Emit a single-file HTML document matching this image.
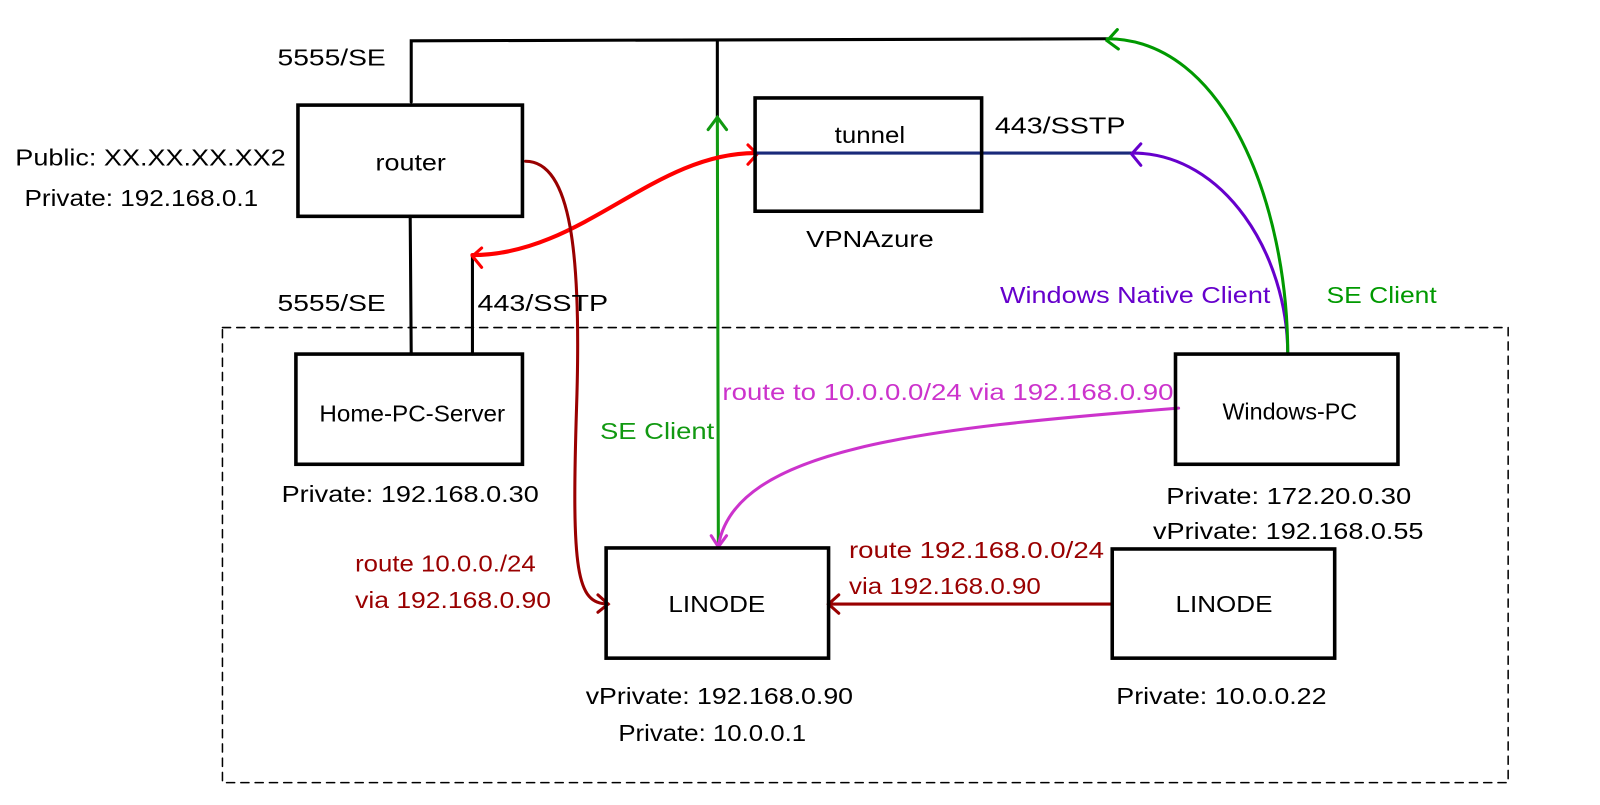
<!DOCTYPE html>
<html><head><meta charset="utf-8"><style>
body{margin:0;background:#fff;width:1600px;height:800px;overflow:hidden}
text{font-family:"Liberation Sans",sans-serif;font-size:23px}
</style></head><body>
<svg width="1600" height="800" viewBox="0 0 1600 800" xmlns="http://www.w3.org/2000/svg">
<g transform="scale(1.0204)">
<g fill="none" stroke-linecap="round">
<rect x="218" y="321" width="1260" height="446" stroke="#000" stroke-width="1.5" stroke-dasharray="8,6"/>
<path d="M403,100 L403,40 L1085,38" stroke="#000" stroke-width="3"/>
<path d="M703,40 L703,115" stroke="#000" stroke-width="3"/>
<path d="M703,115 L704,535" stroke="#119911" stroke-width="3"/>
<path d="M694,127 L703,115 L712,127" stroke="#119911" stroke-width="3"/>
<path d="M402,212 L403,347" stroke="#000" stroke-width="3"/>
<path d="M463,250 L463,347" stroke="#000" stroke-width="3"/>
<path d="M463,250 C570,250 640,150 740,150" stroke="#ff0000" stroke-width="4"/>
<path d="M472,243 L463,251 L472,262" stroke="#ff0000" stroke-width="3"/>
<path d="M733,142 L742,151 L733,161" stroke="#ff0000" stroke-width="3"/>
<path d="M740,150 L1110,150" stroke="#1a2a7a" stroke-width="3"/>
<path d="M1262,347 C1262,250 1200,150 1110,150" stroke="#6600cc" stroke-width="3"/>
<path d="M1118,141 L1109,151 L1118,162" stroke="#6600cc" stroke-width="3"/>
<path d="M1262,347 C1262,200 1200,38 1085,38" stroke="#009900" stroke-width="3"/>
<path d="M1095,29 L1085,40 L1096,48" stroke="#009900" stroke-width="3"/>
<path d="M515,158 C560,158 570,250 565,400 C560,560 565,592 596,592" stroke="#990000" stroke-width="3"/>
<path d="M586,583 L596,592 L586,600" stroke="#990000" stroke-width="3"/>
<path d="M1155,400 C900,420 720,440 704,535" stroke="#cc33cc" stroke-width="3"/>
<path d="M697,525 L704,536 L712,525" stroke="#cc33cc" stroke-width="3"/>
<path d="M1090,592 L812,592" stroke="#990000" stroke-width="3"/>
<path d="M822,583 L812,592 L822,601" stroke="#990000" stroke-width="3"/>
<g stroke="#000" stroke-width="3.5">
<rect x="292" y="103" width="220" height="109"/>
<rect x="740" y="96" width="222" height="111"/>
<rect x="290" y="347" width="222" height="108"/>
<rect x="1152" y="347" width="218" height="108"/>
<rect x="594" y="537" width="218" height="108"/>
<rect x="1090" y="538" width="218" height="107"/>
</g>
</g>
<g fill="#000" lengthAdjust="spacingAndGlyphs">
<text x="368" y="167" textLength="69" lengthAdjust="spacingAndGlyphs">router</text>
<text x="818" y="140" textLength="69" lengthAdjust="spacingAndGlyphs">tunnel</text>
<text x="313" y="413" textLength="182" lengthAdjust="spacingAndGlyphs">Home-PC-Server</text>
<text x="1198" y="411" textLength="132" lengthAdjust="spacingAndGlyphs">Windows-PC</text>
<text x="655" y="600" textLength="95" lengthAdjust="spacingAndGlyphs">LINODE</text>
<text x="1152" y="600" textLength="95" lengthAdjust="spacingAndGlyphs">LINODE</text>
<text x="272" y="64" textLength="106" lengthAdjust="spacingAndGlyphs">5555/SE</text>
<text x="15" y="162" textLength="265" lengthAdjust="spacingAndGlyphs">Public: XX.XX.XX.XX2</text>
<text x="24" y="202" textLength="229" lengthAdjust="spacingAndGlyphs">Private: 192.168.0.1</text>
<text x="272" y="305" textLength="106" lengthAdjust="spacingAndGlyphs">5555/SE</text>
<text x="468" y="305" textLength="128" lengthAdjust="spacingAndGlyphs">443/SSTP</text>
<text x="975" y="131" textLength="128" lengthAdjust="spacingAndGlyphs">443/SSTP</text>
<text x="790" y="242" textLength="125" lengthAdjust="spacingAndGlyphs">VPNAzure</text>
<text x="276" y="492" textLength="252" lengthAdjust="spacingAndGlyphs">Private: 192.168.0.30</text>
<text x="1143" y="494" textLength="240" lengthAdjust="spacingAndGlyphs">Private: 172.20.0.30</text>
<text x="1130" y="528" textLength="265" lengthAdjust="spacingAndGlyphs">vPrivate: 192.168.0.55</text>
<text x="574" y="690" textLength="262" lengthAdjust="spacingAndGlyphs">vPrivate: 192.168.0.90</text>
<text x="606" y="726" textLength="184" lengthAdjust="spacingAndGlyphs">Private: 10.0.0.1</text>
<text x="1094" y="690" textLength="206" lengthAdjust="spacingAndGlyphs">Private: 10.0.0.22</text>
</g>
<text x="980" y="297" fill="#6600cc" textLength="265" lengthAdjust="spacingAndGlyphs">Windows Native Client</text>
<text x="1300" y="297" fill="#009900" textLength="108" lengthAdjust="spacingAndGlyphs">SE Client</text>
<text x="588" y="430" fill="#119911" textLength="112" lengthAdjust="spacingAndGlyphs">SE Client</text>
<text x="708" y="392" fill="#cc33cc" textLength="442" lengthAdjust="spacingAndGlyphs">route to 10.0.0.0/24 via 192.168.0.90</text>
<text x="832" y="547" fill="#990000" textLength="250" lengthAdjust="spacingAndGlyphs">route 192.168.0.0/24</text>
<text x="832" y="582" fill="#990000" textLength="188" lengthAdjust="spacingAndGlyphs">via 192.168.0.90</text>
<text x="348" y="560" fill="#990000" textLength="177" lengthAdjust="spacingAndGlyphs">route 10.0.0./24</text>
<text x="348" y="596" fill="#990000" textLength="192" lengthAdjust="spacingAndGlyphs">via 192.168.0.90</text>
</g>
</svg>
</body></html>
